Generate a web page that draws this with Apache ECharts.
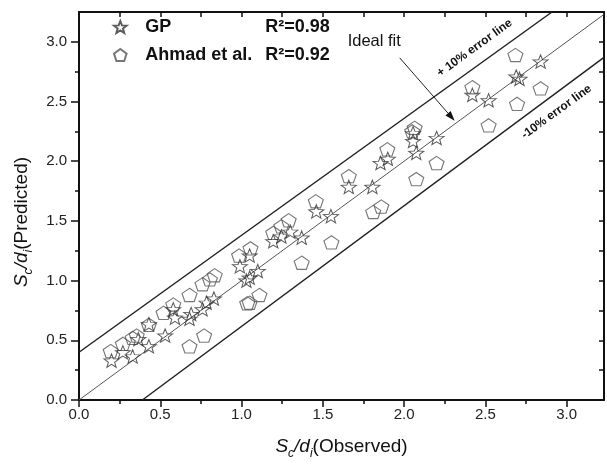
<!DOCTYPE html>
<html>
<head>
<meta charset="utf-8">
<script src="https://cdn.jsdelivr.net/npm/echarts@6/dist/echarts.min.js"></script>
<style>html,body{margin:0;padding:0;background:#fff}#c{width:607px;height:465px}</style>
</head>
<body>
<div id="c"></div>
<script>
// ---- data ----
var seriesNames = ['GP', 'Ahmad et al.'];
var r2Values = ['0.98', '0.92'];
var gpObserved = [0.20,0.27,0.33,0.365,0.43,0.43,0.53,0.59,0.58,0.68,0.69,0.76,0.785,0.83,0.99,1.03,1.05,1.05,1.10,1.195,1.245,1.30,1.37,1.46,1.55,1.66,1.805,1.855,1.90,2.055,2.075,2.055,2.20,2.42,2.52,2.69,2.71,2.84];
var gpPredicted = [0.33,0.40,0.365,0.51,0.45,0.635,0.54,0.69,0.76,0.68,0.72,0.76,0.815,0.85,1.12,1.00,1.025,1.21,1.08,1.33,1.37,1.41,1.36,1.58,1.54,1.785,1.785,1.985,2.02,2.17,2.07,2.235,2.195,2.556,2.51,2.71,2.69,2.835];
var ahObserved = [0.195,0.27,0.33,0.355,0.43,0.52,0.58,0.68,0.76,0.805,0.835,0.68,0.77,0.985,1.055,1.035,1.05,1.11,1.195,1.245,1.29,1.457,1.66,1.897,2.065,2.05,1.553,1.37,1.81,1.86,2.075,2.20,2.42,2.685,2.52,2.695,2.84];
var ahPredicted = [0.41,0.47,0.52,0.54,0.63,0.73,0.80,0.88,0.97,1.01,1.045,0.45,0.54,1.21,1.27,0.81,0.815,0.88,1.40,1.455,1.505,1.665,1.875,2.10,2.28,2.25,1.32,1.15,1.575,1.62,1.85,1.985,2.62,2.89,2.30,2.48,2.61];
var idealLine = [[0,0],[3.23,3.23]];
var plusLine = [[0,0.40],[2.91,3.25]];
var minusLine = [[0.39,0],[3.23,2.87]];
var majorTicks = [0,0.5,1.0,1.5,2.0,2.5,3.0];
var minorTicks = [0.25,0.75,1.25,1.75,2.25,2.75];
var frameTicks = [0.25,0.5,0.75,1.0,1.25,1.5,1.75,2.0,2.25,2.5,2.75,3.0];
var xMax = 3.23, yMax = 3.25;

function zip(a, b) { return a.map(function (v, i) { return [v, b[i]]; }); }

var FONT = "'Liberation Sans', Arial, sans-serif";
var starPath = 'path://M100,0 L124.7,66 L195.1,69.1 L139.9,113 L158.8,180.9 L100,142 L41.2,180.9 L60.1,113 L4.9,69.1 L75.3,66 Z';
var pentPath = 'path://M100,0 L195.1,69.1 L158.8,180.9 L41.2,180.9 L4.9,69.1 Z';

var chart = echarts.init(document.getElementById('c'), null, {renderer: 'canvas'});

var titleRich = {
  it: {fontFamily: FONT, fontSize: 19, fontStyle: 'italic', color: '#111', lineHeight: 26},
  sub: {fontFamily: FONT, fontSize: 12, fontStyle: 'italic', color: '#111', lineHeight: 26, verticalAlign: 'bottom'},
  n: {fontFamily: FONT, fontSize: 19, color: '#111', lineHeight: 26}
};

function frameAxis(pos, isX) {
  return {
    type: 'value', position: pos, min: 0, max: isX ? xMax : yMax,
    axisLine: {show: true, onZero: false, lineStyle: {color: '#111', width: 2}},
    axisTick: {show: true, inside: true, length: 5, lineStyle: {color: '#111', width: 1.5}, customValues: frameTicks},
    axisLabel: {show: false},
    splitLine: {show: false}
  };
}

var option = {
  animation: false,
  backgroundColor: '#fff',
  grid: {left: 79, right: 3, top: 12, bottom: 64},
  legend: {
    orient: 'vertical', left: 108, top: 13, itemWidth: 40, itemHeight: 12, itemGap: 10,
    data: seriesNames,
    formatter: function (name) {
      var i = seriesNames.indexOf(name);
      return '{n|' + name + '}{r|R\u00b2=' + r2Values[i] + '}';
    },
    textStyle: {
      rich: {
        n: {fontFamily: FONT, fontSize: 18, fontWeight: 'bold', color: '#111', width: 120, lineHeight: 22},
        r: {fontFamily: FONT, fontSize: 18, fontWeight: 'bold', color: '#111', lineHeight: 22}
      }
    }
  },
  xAxis: [
    {
      type: 'value', position: 'bottom', min: 0, max: xMax,
      name: '{it|S}{sub|c}{it|/d}{sub|i}{n|(Observed)}',
      nameLocation: 'middle', nameGap: 34,
      nameTextStyle: {rich: titleRich},
      axisLine: {show: true, onZero: false, lineStyle: {color: '#111', width: 2}},
      axisTick: {show: true, inside: false, length: 7, lineStyle: {color: '#111', width: 1.5}, customValues: majorTicks},
      axisLabel: {show: true, margin: 7, fontFamily: FONT, fontSize: 15, color: '#222',
        customValues: majorTicks, formatter: function (v) { return v.toFixed(1); }},
      splitLine: {show: false}
    },
    {
      type: 'value', position: 'bottom', min: 0, max: xMax,
      axisLine: {show: false, onZero: false},
      axisTick: {show: true, inside: false, length: 4, lineStyle: {color: '#111', width: 1.5}, customValues: minorTicks},
      axisLabel: {show: false}, splitLine: {show: false}
    },
    frameAxis('top', true)
  ],
  yAxis: [
    {
      type: 'value', position: 'left', min: 0, max: yMax,
      name: '{it|S}{sub|c}{it|/d}{sub|i}{n|(Predicted)}',
      nameLocation: 'middle', nameGap: 44,
      nameTextStyle: {rich: titleRich, padding: [0, 32, 0, 0]},
      axisLine: {show: true, onZero: false, lineStyle: {color: '#111', width: 2}},
      axisTick: {show: true, inside: false, length: 8, lineStyle: {color: '#111', width: 1.5}, customValues: majorTicks},
      axisLabel: {show: true, margin: 12, fontFamily: FONT, fontSize: 15, color: '#222',
        customValues: majorTicks, formatter: function (v) { return v.toFixed(1); }},
      splitLine: {show: false}
    },
    {
      type: 'value', position: 'left', min: 0, max: yMax,
      axisLine: {show: false, onZero: false},
      axisTick: {show: true, inside: false, length: 4, lineStyle: {color: '#111', width: 1.5}, customValues: minorTicks},
      axisLabel: {show: false}, splitLine: {show: false}
    },
    frameAxis('right', false)
  ],
  series: [
    {
      name: 'ideal', type: 'line', data: idealLine, symbol: 'none', silent: true,
      lineStyle: {color: '#555', width: 1}, z: 1
    },
    {
      name: 'plus', type: 'line', data: plusLine, symbol: 'none', silent: true,
      lineStyle: {color: '#222', width: 1.5}, z: 1
    },
    {
      name: 'minus', type: 'line', data: minusLine, symbol: 'none', silent: true,
      lineStyle: {color: '#222', width: 1.5}, z: 1
    },
    {
      name: seriesNames[1], type: 'scatter', data: zip(ahObserved, ahPredicted),
      symbol: pentPath, symbolSize: [15, 14], symbolKeepAspect: true,
      itemStyle: {color: 'rgba(0,0,0,0)', borderColor: '#555', borderWidth: 1.1}, z: 3
    },
    {
      name: seriesNames[0], type: 'scatter', data: zip(gpObserved, gpPredicted),
      symbol: starPath, symbolSize: [15, 14], symbolKeepAspect: true,
      itemStyle: {color: 'rgba(0,0,0,0)', borderColor: '#333', borderWidth: 1}, z: 4
    }
  ]
};
chart.setOption(option);

// annotations positioned in data coordinates
function px(p) { return chart.convertToPixel({xAxisIndex: 0, yAxisIndex: 0}, p); }
var arrowFrom = px([1.973, 2.866]);
var arrowTo = px([2.311, 2.339]);
var ang = Math.atan2(arrowTo[1] - arrowFrom[1], arrowTo[0] - arrowFrom[0]);
var hl = 10, hw = 3.5;
var base = [arrowTo[0] - hl * Math.cos(ang), arrowTo[1] - hl * Math.sin(ang)];
var head = [
  arrowTo,
  [base[0] + hw * Math.sin(ang), base[1] - hw * Math.cos(ang)],
  [base[0] - hw * Math.sin(ang), base[1] + hw * Math.cos(ang)]
];
var idealPos = px([1.653, 3.0]);
var plusPos = px([2.434, 2.949]);
var minusPos = px([2.938, 2.414]);
var rot = 36 * Math.PI / 180;

chart.setOption({
  graphic: [
    {type: 'text', x: idealPos[0], y: idealPos[1], style: {text: 'Ideal fit', font: '16.5px ' + FONT, fill: '#111', textAlign: 'left', textVerticalAlign: 'middle'}, z: 10},
    {type: 'line', shape: {x1: arrowFrom[0], y1: arrowFrom[1], x2: base[0], y2: base[1]}, style: {stroke: '#222', lineWidth: 1}, z: 10},
    {type: 'polygon', shape: {points: head}, style: {fill: '#111'}, z: 10},
    {type: 'text', x: plusPos[0], y: plusPos[1], rotation: rot, style: {text: '+ 10% error line', font: 'bold 12px ' + FONT, fill: '#111', textAlign: 'center', textVerticalAlign: 'middle'}, z: 10},
    {type: 'text', x: minusPos[0], y: minusPos[1], rotation: rot, style: {text: '-10% error line', font: 'bold 12px ' + FONT, fill: '#111', textAlign: 'center', textVerticalAlign: 'middle'}, z: 10}
  ]
});
</script>
</body>
</html>
